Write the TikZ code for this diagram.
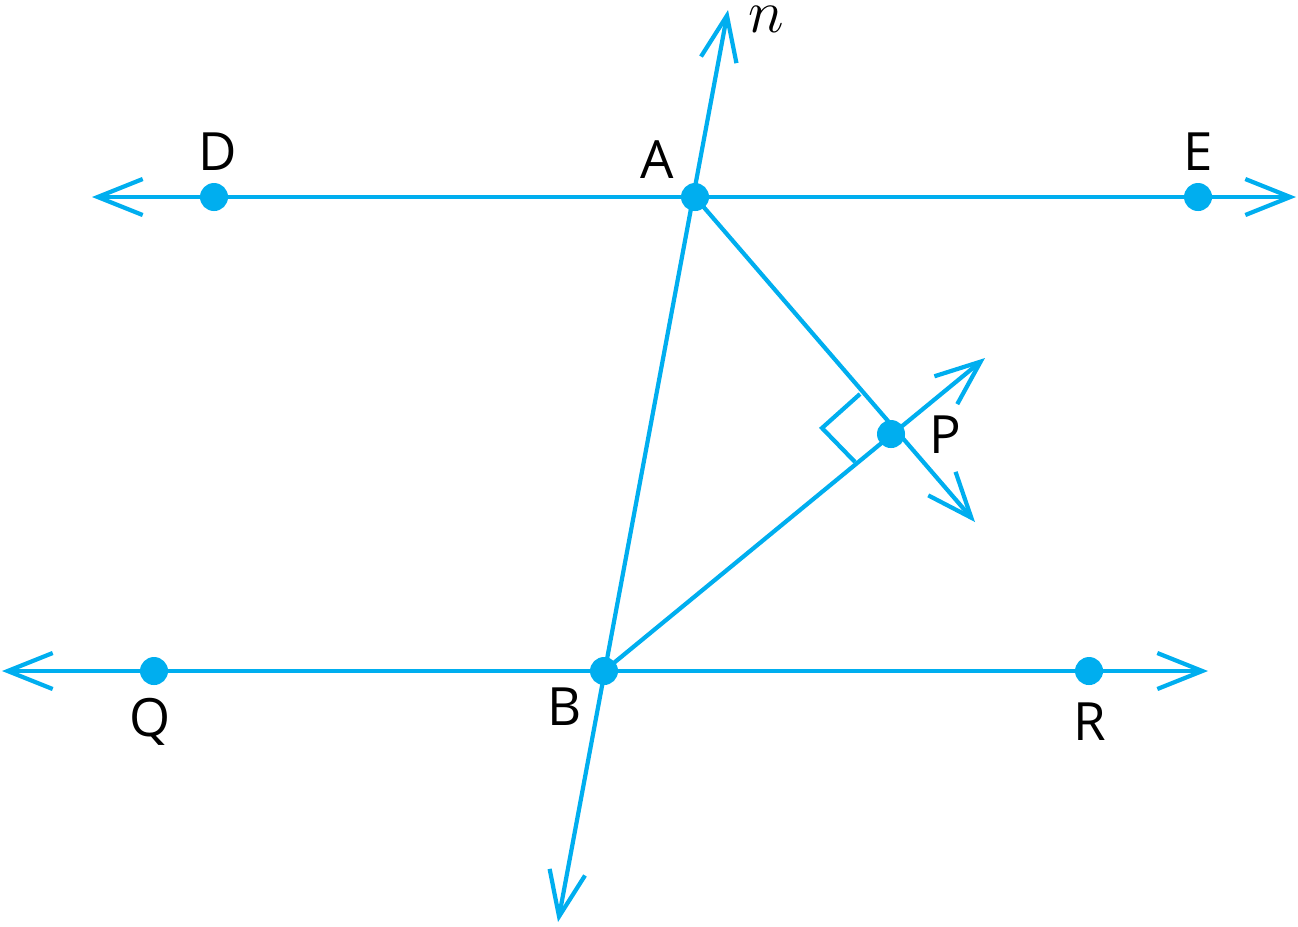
\documentclass[tikz,border=0pt]{standalone}
\usepackage{fontspec}
\setmainfont{Open Sans}
\usetikzlibrary{arrows.meta}
\definecolor{cy}{RGB}{0,174,239}
\begin{document}
\begin{tikzpicture}[x=0.01cm,y=-0.01cm,
  ln/.style={cy,line width=1.2pt},
  arr/.style={ln,-{Straight Barb[length=0.45cm,width=0.36cm]}},
  arrr/.style={ln,{Straight Barb[length=0.45cm,width=0.36cm]}-{Straight Barb[length=0.45cm,width=0.36cm]}},
  dot/.style={circle,fill=cy,inner sep=0pt,minimum size=0.28cm},
  lab/.style={font=\fontsize{15}{17}\selectfont}]
\useasboundingbox (0,0) rectangle (1298,926);
\coordinate (A) at (695,197); \coordinate (B) at (604,671); \coordinate (P) at (891,434);
\coordinate (DL) at (92,197); \coordinate (ER) at (1296,197);
\coordinate (QL) at (2,671); \coordinate (RR) at (1208,671);
\coordinate (nT) at (728,10); \coordinate (nB) at (558,922);
\coordinate (AP) at (975,522); \coordinate (BP) at (985,358);
\draw[arrr] (DL) -- (ER);
\draw[arrr] (QL) -- (RR);
\draw[arrr] (nB) -- (nT);
\draw[arr] (A) -- (AP);
\draw[arr] (B) -- (BP);
\draw[ln] (860,394) -- (822,428) -- (855,462);
\foreach \p/\c in {D/{(214,197)},A/{(695,197)},E/{(1198,197)},P/{(891,434)},Q/{(154,671)},B/{(604,671)},R/{(1089,671)}}
  \node[dot] (d\p) at \c {};
\node[lab] (lD) at (218,152) {D};
\node[lab] (lA) at (657,160) {A};
\node[lab] (lE) at (1198,152) {E};
\node[lab] (lP) at (945,435) {P};
\node[lab] (lQ) at (150,722) {Q};
\node[lab] (lB) at (565,707) {B};
\node[lab] (lR) at (1090,722) {R};
\node[font=\fontsize{16}{18}\selectfont,inner sep=0pt] (ln) at (766,19) {$n$};
\end{tikzpicture}
\end{document}
